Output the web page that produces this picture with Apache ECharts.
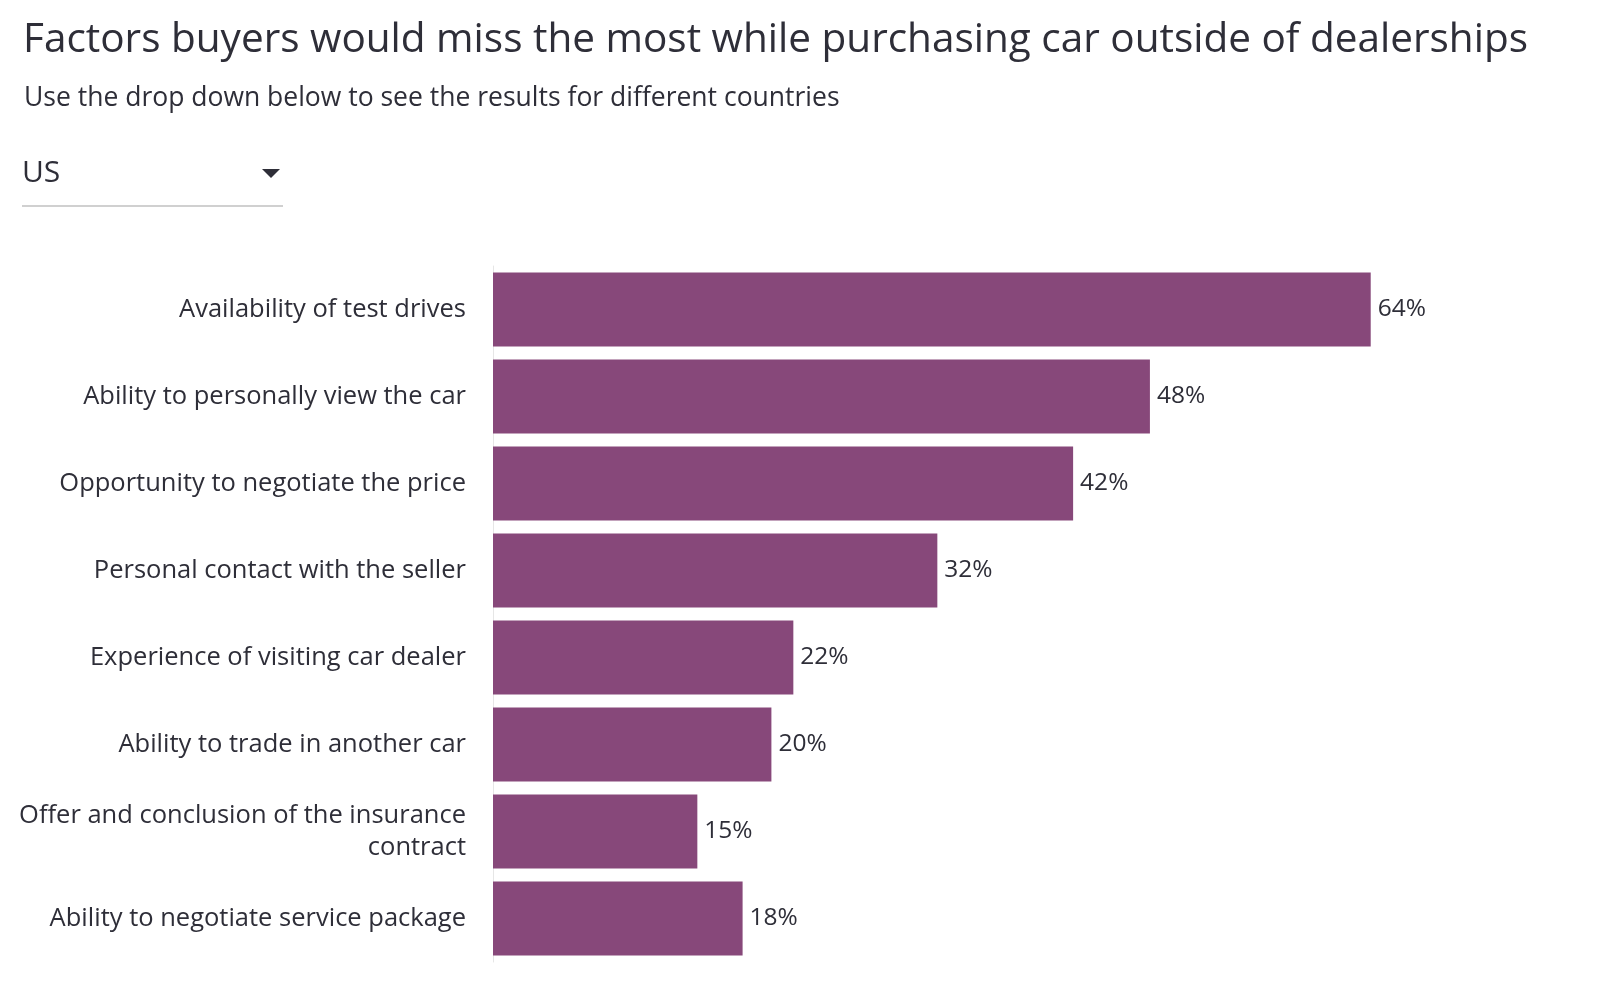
<!DOCTYPE html>
<html>
<head>
<meta charset="utf-8">
<script src="https://cdn.jsdelivr.net/npm/echarts@6/dist/echarts.min.js"></script>
<style>
html,body{margin:0;padding:0;background:#fff;}
#chart{width:1600px;height:997px;}
</style>
</head>
<body>
<div id="chart"></div>
<script>
var titleText = 'Factors buyers would miss the most while purchasing car outside of dealerships';
var subtitleText = 'Use the drop down below to see the results for different countries';
var countryLabel = 'US';
var categories = [
  'Availability of test drives',
  'Ability to personally view the car',
  'Opportunity to negotiate the price',
  'Personal contact with the seller',
  'Experience of visiting car dealer',
  'Ability to trade in another car',
  'Offer and conclusion of the insurance\ncontract',
  'Ability to negotiate service package'
];
var values = [64, 47.9, 42.3, 32.4, 21.9, 20.3, 14.9, 18.2];

var font = '"Open Sans", Lato, sans-serif';
var chart = echarts.init(document.getElementById('chart'));
chart.setOption({
  backgroundColor: '#ffffff',
  animation: false,
  title: [{
    text: titleText,
    left: 18, top: 15,
    textStyle: {fontFamily: font, fontSize: 40.5, fontWeight: 'normal', color: '#2e2e38'}
  }, {
    text: subtitleText,
    left: 19, top: 80,
    textStyle: {fontFamily: font, fontSize: 26.5, fontWeight: 'normal', color: '#2e2e38'}
  }],
  graphic: [
    {type: 'text', left: 22, top: 158, style: {text: countryLabel, font: '30px ' + font, fill: '#2e2e38'}},
    {type: 'polygon', shape: {points: [[262, 169], [280, 169], [271, 178]]}, style: {fill: '#2e2e38'}},
    {type: 'rect', shape: {x: 22, y: 205, width: 261, height: 2}, style: {fill: '#d0d0d0'}}
  ],
  grid: {left: 493, top: 266, width: 960, height: 696, containLabel: false},
  xAxis: {
    type: 'value', min: 0, max: 70,
    show: false
  },
  yAxis: {
    type: 'category',
    data: categories,
    inverse: true,
    axisLine: {show: true, lineStyle: {color: '#e6e6e6', width: 1}},
    axisTick: {show: false},
    axisLabel: {
      fontFamily: font, fontSize: 25.5, color: '#2e2e38', margin: 27,
      lineHeight: 32, align: 'right'
    }
  },
  series: [{
    type: 'bar',
    data: values,
    barCategoryGap: '15%',
    itemStyle: {color: '#87487a'},
    label: {
      show: true, position: 'right', distance: 7,
      formatter: function (p) { return Math.round(p.value) + '%'; },
      fontFamily: font, fontSize: 24.5, color: '#2e2e38'
    }
  }]
});
</script>
</body>
</html>
